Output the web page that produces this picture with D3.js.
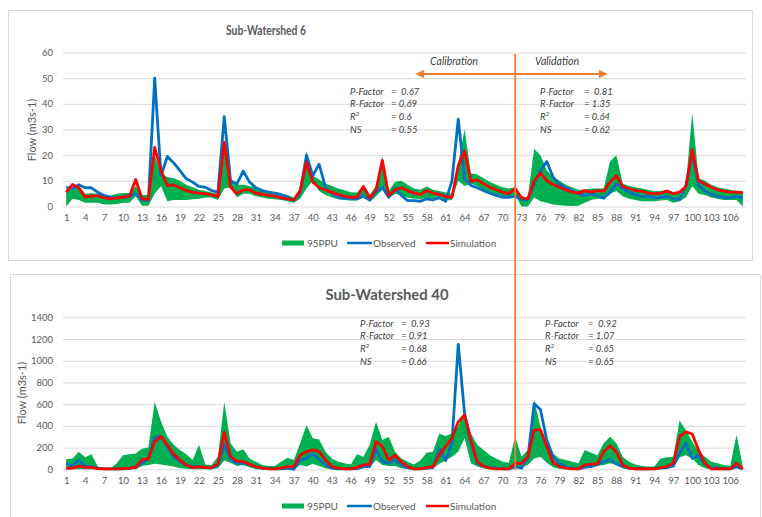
<!DOCTYPE html>
<html>
<head>
<meta charset="utf-8">
<script src="https://cdn.jsdelivr.net/npm/d3@7"></script>
<style>
  body { margin: 0; background: #fff; }
  svg { display: block; font-family: Lato, "Open Sans", sans-serif; }
</style>
</head>
<body>
<svg id="chart" width="762" height="517"></svg>
<script>
const width = 762;
const height = 517;

// categories 1..108 (time steps)
const cats = d3.range(1, 109);
const xTicks = cats.filter((d) => (d - 1) % 3 === 0);

// Sub-Watershed 6 ============================================================
const obs6 = [7.5, 7, 8.5, 7.3, 7.3, 5.5, 4.3, 3.6, 3.4, 3.6,
  3.9, 5, 2.6, 2.3, 50, 12, 19.5, 17, 14, 10.8,
  9.5, 7.8, 7.5, 6.2, 5.6, 35, 10, 8.8, 13.8, 9.5,
  7.3, 6.2, 5.6, 5.2, 4.7, 3.6, 2.3, 5.6, 20, 12,
  16.5, 7.5, 5, 3.6, 3.2, 3, 3, 4, 2.6, 5.6,
  7.5, 3.6, 7, 4.3, 2.3, 2.3, 2, 3, 2.6, 3.4,
  2, 10, 34, 11, 8.2, 7.3, 6.2, 5.2, 4.3, 3.6,
  3.6, 4, 2.7, 2.7, 8.8, 14, 17.5, 11.4, 8.8, 7.3,
  6, 5, 4.3, 5, 4.3, 3.2, 5.6, 8.8, 7, 5.6,
  4.5, 3.9, 3.9, 3.4, 3.6, 3.9, 3, 2.7, 8.2, 20.5,
  8.2, 6.2, 4.7, 3.9, 3.6, 3.4, 3.9, 3.4];
const sim6 = [5.6, 8.6, 7.3, 3.7, 4, 4.2, 3.4, 3, 3.4, 3.6,
  4, 10.5, 3, 2.8, 23, 14, 8.2, 8.4, 7.3, 6.2,
  5.6, 5.2, 5, 4.5, 3.9, 25, 7.5, 5, 6.5, 6.5,
  5.2, 4.7, 4.3, 4, 3.4, 3, 2.6, 6.2, 17.3, 9.5,
  7.3, 6.5, 5.6, 4.7, 4, 3.6, 3.6, 7.8, 3.4, 6.5,
  18, 4.3, 6.5, 7.3, 6.2, 5.2, 4.7, 6.2, 5.2, 4.7,
  3.9, 3.6, 16, 21.5, 9.8, 10.4, 8.8, 7.5, 6.5, 5.6,
  5, 7, 3.4, 3, 10, 13, 10, 8.6, 7.5, 6.5,
  5.6, 5.2, 6.2, 5.6, 6.2, 6, 9.5, 12, 7.8, 7,
  6.2, 6, 5.2, 5, 5.2, 6, 5, 5.6, 7.8, 22,
  10, 8.8, 7.5, 6.5, 6, 5.6, 5.6, 5.3];
const lo6 = [0, 3, 2.5, 1.5, 1.5, 1.5, 0.8, 0.8, 1, 1.5,
  1.5, 4, 0.3, 0.3, 5, 8, 2, 2.5, 2.5, 2.5,
  2.8, 3, 3.5, 3.5, 2.5, 7, 7.5, 3.5, 5, 5,
  4, 3.5, 3, 2.8, 2.5, 2, 1.5, 3, 7, 10,
  6, 4.5, 3.5, 2.8, 2.5, 2.3, 2.3, 3.5, 1.8, 4,
  6.5, 3, 5, 4.5, 3.5, 3, 2.8, 3.5, 2.8, 2.8,
  2.3, 2.5, 10, 8, 9, 8, 6.5, 5.5, 4.5, 4,
  3.5, 4.5, 0, 0, 3.5, 2, 1.5, 0.8, 0.5, 0.3,
  0.2, 0.3, 1.5, 2.5, 3, 3, 5, 6, 4, 3,
  2.5, 2, 2, 2, 2.3, 2.5, 1.5, 2, 3.5, 8,
  5, 4.5, 3.5, 3, 2.5, 2.5, 2.5, 0];
const up6 = [6, 7, 8, 5, 5.2, 5, 4.5, 4.2, 5, 5.3,
  5.3, 8, 4.5, 4.5, 20, 13, 11.5, 11, 10, 8.5,
  7.5, 6.5, 6, 5.5, 5, 24, 10, 8.5, 8.5, 8,
  7.3, 6.5, 6, 5.5, 5, 4.5, 3.5, 6.5, 21.5, 12,
  10.5, 9, 8, 7, 6.3, 5.6, 5.5, 8.5, 4.5, 8,
  19.5, 6, 9.5, 10, 8.5, 7, 6.5, 7.8, 6.5, 6,
  5.5, 5, 17, 30, 13, 12.5, 11, 9.5, 8.5, 7.5,
  7, 7.5, 4, 3.5, 22.5, 20, 14, 11.5, 10, 8.5,
  7.5, 6.5, 6.5, 7, 7, 7, 17.5, 20, 9, 8,
  7.5, 7, 6.5, 6, 6, 6.5, 5.5, 5.5, 9, 36.5,
  11, 10, 8.5, 7.5, 7, 6.5, 6, 6];
const yTicks6 = [0, 10, 20, 30, 40, 50, 60];

// Sub-Watershed 40 ===========================================================
const obs40 = [55, 25, 85, 30, 25, 10, 3, 3, 3, 5,
  8, 25, 55, 100, 300, 300, 210, 115, 70, 40,
  25, 25, 15, 12, 40, 225, 85, 55, 55, 40,
  25, 10, 6, 3, 3, 10, 0, 85, 100, 145,
  90, 40, 10, 3, 3, 3, 6, 25, 25, 190,
  70, 55, 85, 40, 15, 3, 3, 10, 15, 190,
  80, 240, 1150, 515, 240, 55, 25, 15, 10, 3,
  3, 25, 10, 100, 605, 550, 270, 115, 55, 25,
  10, 3, 18, 25, 45, 70, 90, 50, 25, 10,
  3, 3, 3, 3, 10, 15, 30, 145, 240, 100,
  130, 45, 15, 10, 3, 3, 25, 3];
const sim40 = [8, 12, 30, 18, 18, 6, 3, 3, 3, 6,
  10, 18, 90, 95, 255, 300, 225, 140, 85, 40,
  15, 25, 15, 15, 50, 340, 115, 75, 70, 45,
  25, 10, 3, 3, 10, 25, 25, 130, 162, 178,
  162, 85, 25, 10, 3, 3, 18, 40, 45, 255,
  210, 85, 130, 70, 25, 3, 3, 15, 25, 130,
  210, 285, 437, 500, 270, 70, 30, 10, 3, 3,
  3, 55, 55, 115, 360, 365, 210, 60, 25, 10,
  3, 3, 40, 45, 50, 162, 215, 162, 40, 10,
  3, 3, 3, 3, 15, 25, 55, 300, 345, 325,
  178, 55, 3, 3, 3, 3, 55, 3];
const lo40 = [0, 0, 0, 0, 0, 0, 0, 0, 0, 0,
  0, 0, 30, 40, 50, 45, 35, 25, 10, 5,
  0, 0, 0, 0, 10, 80, 60, 30, 40, 20,
  0, 0, 0, 0, 0, 0, 0, 40, 25, 50,
  30, 10, 0, 0, 0, 0, 0, 10, 20, 85,
  40, 30, 30, 10, 0, 0, 0, 0, 10, 50,
  80, 115, 162, 285, 55, 25, 10, 0, 0, 0,
  0, 10, 20, 40, 100, 115, 60, 20, 5, 0,
  0, 0, 10, 20, 30, 40, 55, 40, 10, 0,
  0, 0, 0, 0, 5, 10, 20, 110, 130, 100,
  40, 10, 0, 0, 0, 0, 10, 0];
const up40 = [92, 100, 162, 110, 138, 25, 10, 10, 55, 130,
  138, 145, 190, 200, 620, 440, 300, 225, 178, 138,
  85, 225, 45, 40, 115, 620, 240, 162, 185, 100,
  70, 40, 30, 30, 70, 107, 85, 240, 407, 285,
  275, 162, 100, 70, 55, 45, 138, 115, 225, 437,
  270, 300, 162, 100, 70, 45, 80, 153, 162, 330,
  306, 330, 392, 545, 330, 225, 178, 130, 100, 70,
  60, 300, 115, 178, 640, 390, 255, 145, 100, 85,
  70, 55, 178, 153, 130, 240, 300, 240, 115, 70,
  45, 30, 25, 25, 100, 110, 115, 450, 360, 255,
  162, 115, 70, 55, 40, 30, 315, 25];
const yTicks40 = [0, 200, 400, 600, 800, 1000, 1200, 1400];

// goodness-of-fit labels
const statNames = ['P-Factor', 'R-Factor', 'R²', 'NS'];
const stats6Cal = ['=  0.67', '= 0.69', '= 0.6', '= 0.55'];
const stats6Val = ['=  0.81', '= 1.35', '= 0.64', '= 0.62'];
const stats40Cal = ['=  0.93', '= 0.91', '= 0.68', '= 0.66'];
const stats40Val = ['=  0.92', '= 1.07', '= 0.65', '= 0.65'];

const legendItems = ['95PPU', 'Observed', 'Simulation'];
const splitCat = 72;

const GREEN = '#00B050';
const BLUE = '#0070C0';
const RED = '#FF0000';
const ORANGE = '#ED7D31';
const TEXT = '#595959';

const svg = d3.select('#chart');

// shared x scale
const xScale = d3.scalePoint().domain(cats).range([63, 746]).padding(0.5);

function drawPanel(p) {
	// border
	svg.append('rect')
		.attr('x', p.box[0]).attr('y', p.box[1])
		.attr('width', p.box[2]).attr('height', p.box[3])
		.attr('fill', 'none').attr('stroke', '#d9d9d9').attr('stroke-width', 1);

	// title
	svg.append('text')
		.attr('x', p.titleX).attr('y', p.titleY)
		.attr('text-anchor', 'middle')
		.attr('font-size', p.titleSize).attr('font-weight', 700)
		.attr('fill', TEXT)
		.attr('textLength', p.titleLen).attr('lengthAdjust', 'spacingAndGlyphs')
		.text(p.title);

	const yScale = d3.scaleLinear().domain([0, p.yMax]).range([p.y0, p.y1]);

	// grid + y labels
	const yAxis = d3.axisLeft(yScale).tickValues(p.yTicks).tickFormat(d3.format('d'))
		.tickSize(-(746 - 63)).tickPadding(10);
	const gy = svg.append('g').attr('transform', 'translate(63,0)').call(yAxis);
	gy.select('.domain').remove();
	gy.selectAll('line').attr('stroke', '#d9d9d9');
	gy.selectAll('text').attr('fill', TEXT).attr('font-size', 9.5).attr('font-family', 'Lato');

	// x labels
	const xAxis = d3.axisBottom(xScale).tickValues(xTicks).tickSize(0).tickPadding(8);
	const gx = svg.append('g').attr('transform', `translate(0,${p.y0})`).call(xAxis);
	gx.select('.domain').remove();
	gx.selectAll('text').attr('fill', TEXT).attr('font-size', 9.5).attr('font-family', 'Lato');

	// y title
	svg.append('text')
		.attr('transform', `translate(${p.yTitleX},${p.yTitleY}) rotate(-90)`)
		.attr('text-anchor', 'middle')
		.attr('font-size', 11).attr('fill', TEXT)
		.text('Flow (m3s-1)');

	// 95PPU band
	const area = d3.area()
		.x((d, i) => xScale(cats[i]))
		.y0((d, i) => yScale(p.lo[i]))
		.y1((d, i) => yScale(p.up[i]));
	svg.append('path').datum(p.up).attr('d', area).attr('fill', GREEN);

	const line = d3.line().x((d, i) => xScale(cats[i])).y((d) => yScale(d));
	svg.append('path').datum(p.obs).attr('d', line)
		.attr('fill', 'none').attr('stroke', BLUE).attr('stroke-width', 2.8).attr('stroke-linejoin', 'round');
	svg.append('path').datum(p.sim).attr('d', line)
		.attr('fill', 'none').attr('stroke', RED).attr('stroke-width', 2.8).attr('stroke-linejoin', 'round');

	// stats blocks
	[[p.calX, p.calEqX, p.calStats], [p.valX, p.valEqX, p.valStats]].forEach(([x0, x1, vals]) => {
		statNames.forEach((name, i) => {
			const y = p.statY + i * 12.7;
			const t = svg.append('text').attr('x', x0).attr('y', y)
				.attr('font-size', 9.5).attr('font-style', 'italic').attr('fill', '#404040');
			if (name === 'R²') {
				t.text('R');
				t.append('tspan').attr('font-size', 6.5).attr('dy', -3.5).text('2');
			} else {
				t.text(name);
			}
			svg.append('text').attr('x', x1).attr('y', y)
				.attr('font-size', 9.5).attr('font-style', 'italic').attr('fill', '#404040')
				.attr('xml:space', 'preserve').style('white-space', 'pre')
				.text(vals[i]);
		});
	});

	// legend
	const lg = svg.append('g').attr('transform', `translate(0,${p.legendY})`);
	lg.append('rect').attr('x', 282).attr('y', -2.5).attr('width', 22).attr('height', 5).attr('fill', GREEN);
	lg.append('line').attr('x1', 347).attr('x2', 372).attr('stroke', BLUE).attr('stroke-width', 2.5);
	lg.append('line').attr('x1', 426).attr('x2', 449).attr('stroke', RED).attr('stroke-width', 2.5);
	[[307, legendItems[0]], [373, legendItems[1]], [450, legendItems[2]]].forEach(([x, label]) => {
		lg.append('text').attr('x', x).attr('y', 3.5)
			.attr('font-size', 10).attr('fill', TEXT).text(label);
	});

	return yScale;
}

drawPanel({
	box: [8.5, 10.5, 744, 250],
	title: 'Sub-Watershed 6', titleX: 266, titleY: 34.5, titleSize: 13.5, titleLen: 80,
	yMax: 60, y0: 206.5, y1: 52.5, yTicks: yTicks6,
	yTitleX: 36, yTitleY: 130,
	obs: obs6, sim: sim6, lo: lo6, up: up6,
	calX: 350, calEqX: 391, calStats: stats6Cal,
	valX: 540, valEqX: 584, valStats: stats6Val,
	statY: 94.5, legendY: 243
});

drawPanel({
	box: [10.5, 274.5, 750, 260],
	title: 'Sub-Watershed 40', titleX: 387, titleY: 299.5, titleSize: 15.5, titleLen: 123,
	yMax: 1400, y0: 469.3, y1: 317.3, yTicks: yTicks40,
	yTitleX: 26, yTitleY: 393,
	obs: obs40, sim: sim40, lo: lo40, up: up40,
	calX: 360, calEqX: 401, calStats: stats40Cal,
	valX: 545, valEqX: 588, valStats: stats40Val,
	statY: 326.5, legendY: 506
});

// calibration / validation split ===============================================
const splitX = xScale(splitCat);
svg.append('line')
	.attr('x1', splitX).attr('x2', splitX).attr('y1', 54).attr('y2', 470)
	.attr('stroke', ORANGE).attr('stroke-width', 1.8);

const arrowY = 74;
svg.append('line')
	.attr('x1', 420).attr('x2', 603).attr('y1', arrowY).attr('y2', arrowY)
	.attr('stroke', ORANGE).attr('stroke-width', 2);
svg.append('path')
	.attr('d', `M415,${arrowY} L424,${arrowY - 4} L424,${arrowY + 4} Z`).attr('fill', ORANGE);
svg.append('path')
	.attr('d', `M608,${arrowY} L599,${arrowY - 4} L599,${arrowY + 4} Z`).attr('fill', ORANGE);

svg.append('text').attr('x', 454).attr('y', 65).attr('text-anchor', 'middle')
	.attr('font-size', 10.5).attr('font-style', 'italic').attr('fill', '#404040').text('Calibration');
svg.append('text').attr('x', 557).attr('y', 65).attr('text-anchor', 'middle')
	.attr('font-size', 10.5).attr('font-style', 'italic').attr('fill', '#404040').text('Validation');
</script>
</body>
</html>
